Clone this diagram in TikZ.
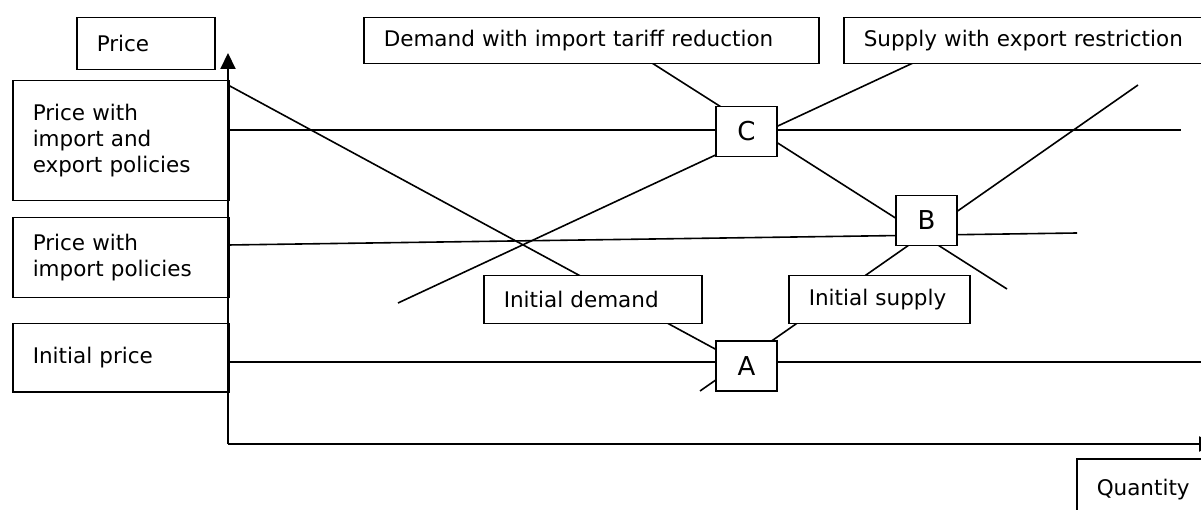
\documentclass[tikz,border=0pt]{standalone}
\usepackage{fontspec}
\setmainfont{DejaVu Sans}
\usetikzlibrary{arrows.meta,backgrounds}
\tikzset{
    >={Triangle[length=16pt,width=15pt]},
    every picture/.style={line width=1.5pt},
    lbl/.style={rectangle,draw,fill=white,inner xsep=20pt,inner ysep=0pt,align=left,
        anchor=north west,font=\fontsize{21.5}{26}\selectfont},
    ptbox/.style={rectangle,draw,fill=white,minimum width=61pt,minimum height=50pt,
        font=\fontsize{26}{30}\selectfont},
    pline/.style={line width=1.6pt},
    axis/.style={line width=2pt,->}
}

\begin{document}
\begin{tikzpicture}[x=1pt,y=-1pt]
    \useasboundingbox (0,0) rectangle (1201,510);

    % Axis labels
    \node[lbl,text width=98pt,minimum height=52pt] (price) at (76,17) {Price};
    \node[lbl,text width=100pt,minimum height=62pt] (quantity) at (1076,458) {Quantity};

    % Price levels
    \node[lbl,text width=176pt,minimum height=120pt] (pbothlbl) at (12,80) {Price with\\import and\\export policies};
    \node[lbl,text width=176pt,minimum height=80pt] (pimplbl) at (12,217) {Price with\\import policies};
    \node[lbl,text width=176pt,minimum height=68pt] (pinilbl) at (12,323) {Initial price};

    % Curve labels
    \node[lbl,text width=415pt,minimum height=46pt] (dtarlbl) at (363,17) {Demand with import tariff reduction};
    \node[lbl,text width=330pt,minimum height=46pt] (sexplbl) at (843,17) {Supply with export restriction};
    \node[lbl,text width=178pt,minimum height=48pt] (dinilbl) at (483,275) {Initial demand};
    \node[lbl,text width=141pt,minimum height=48pt] (sinilbl) at (788,275) {Initial supply};

    % Equilibria
    \node[ptbox] (C) at (746.5,131.5) {C};
    \node[ptbox] (B) at (926.5,220.5) {B};
    \node[ptbox] (A) at (746.5,366) {A};

    % Axes
    \coordinate (O) at (228,444);
    \coordinate (ytop) at (228,53);
    \coordinate (xend) at (1215,444);
    \draw[axis] (O) -- (ytop);
    \draw[axis] (O) -- (xend);

    % Curves and price lines
    \coordinate (pbothend) at (1181,130);
    \coordinate (pimpend) at (1077,233);
    \coordinate (piniend) at (1210,362);
    \coordinate (dinistart) at (228,85);
    \coordinate (sinilow) at (700,391);
    \coordinate (sinihigh) at (1138,85);
    \coordinate (dtarstart) at (652,63);
    \coordinate (dtarend) at (1007,289);
    \coordinate (sexplow) at (398,303);
    \coordinate (sexphigh) at (913,63);
    \begin{scope}[on background layer]
        \draw[pline] (O |- pbothend) -- (pbothend);
        \draw[pline] (228,245) -- (pimpend);
        \draw[pline] (O |- piniend) -- (piniend);
        \draw[pline] (dinistart) -- (A.center);
        \draw[pline] (sinilow) -- (sinihigh);
        \draw[pline] (dtarstart) -- (dtarend);
        \draw[pline] (sexplow) -- (sexphigh);
    \end{scope}
\end{tikzpicture}
\end{document}
